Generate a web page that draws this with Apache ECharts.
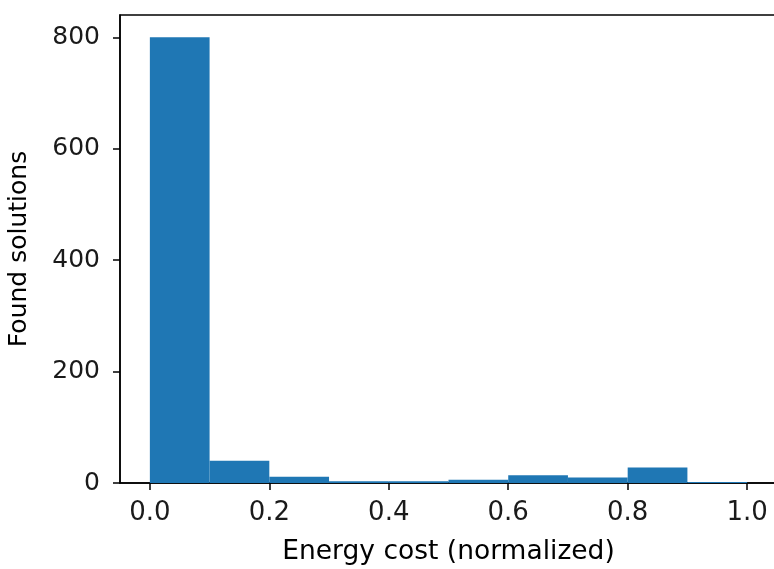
<!DOCTYPE html>
<html>
<head>
<meta charset="utf-8">
<script src="https://cdn.jsdelivr.net/npm/echarts@6/dist/echarts.min.js"></script>
<style>
html,body{margin:0;padding:0;background:#fff;}
#c{width:774px;height:569px;}
</style>
</head>
<body>
<div id="c"></div>
<script>
var binStarts = [0.0, 0.1, 0.2, 0.3, 0.4, 0.5, 0.6, 0.7, 0.8, 0.9];
var binEnds   = [0.1, 0.2, 0.3, 0.4, 0.5, 0.6, 0.7, 0.8, 0.9, 1.0];
var counts    = [800, 40, 11, 3, 3, 6, 14, 10, 28, 2];
var xTicks = [0.0, 0.2, 0.4, 0.6, 0.8, 1.0];
var yTicks = [0, 200, 400, 600, 800];

var data = binStarts.map(function (s, i) { return [s, binEnds[i], counts[i]]; });
var FONT = 'DejaVu Sans';
var chart = echarts.init(document.getElementById('c'), null, {renderer: 'canvas'});
chart.setOption({
  animation: false,
  backgroundColor: '#ffffff',
  grid: {left: 120, top: 15, width: 657, height: 468, outerBoundsMode: 'none', containLabel: false,
    show: true, borderColor: '#000', borderWidth: 1.5, backgroundColor: 'transparent'},
  xAxis: {
    type: 'value', min: -0.05, max: 1.05,
    name: 'Energy cost (normalized)', nameLocation: 'middle', nameGap: 56,
    nameTextStyle: {fontFamily: FONT, fontSize: 26.5, color: '#000'},
    axisLine: {show: true, onZero: false, lineStyle: {color: '#000', width: 1.5}},
    axisTick: {show: true, inside: false, length: 7, lineStyle: {color: '#000', width: 1.5}, customValues: xTicks},
    axisLabel: {show: true, margin: 17, fontFamily: FONT, fontSize: 26, color: '#1a1a1a', customValues: xTicks,
      formatter: function (v) { return v.toFixed(1); }},
    splitLine: {show: false}
  },
  yAxis: {
    type: 'value', min: 0, max: 840,
    name: 'Found solutions', nameLocation: 'middle', nameGap: 88, nameRotate: 90,
    nameTextStyle: {fontFamily: FONT, fontSize: 25, color: '#000'},
    axisLine: {show: true, onZero: false, lineStyle: {color: '#000', width: 1.5}},
    axisTick: {show: true, inside: false, length: 7, lineStyle: {color: '#000', width: 1.5}, customValues: yTicks},
    axisLabel: {show: true, margin: 20, fontFamily: FONT, fontSize: 25, color: '#1a1a1a', customValues: yTicks},
    splitLine: {show: false}
  },
  series: [{
    type: 'custom',
    data: data,
    encode: {x: [0, 1], y: 2},
    renderItem: function (params, api) {
      var p0 = api.coord([api.value(0), 0]);
      var p1 = api.coord([api.value(1), api.value(2)]);
      return {
        type: 'rect',
        shape: {x: p0[0], y: p1[1], width: p1[0] - p0[0], height: p0[1] - p1[1]},
        style: {fill: '#1f77b4'}
      };
    }
  }]
});
</script>
</body>
</html>
